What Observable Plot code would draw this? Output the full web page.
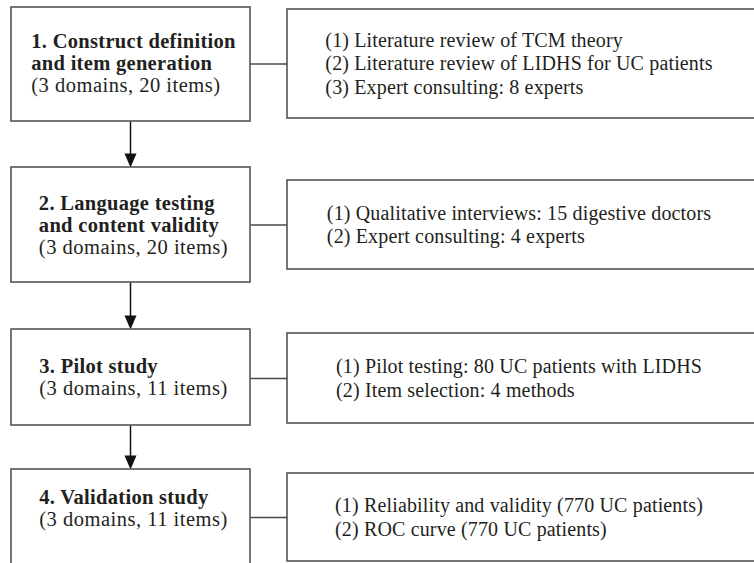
<!DOCTYPE html>
<html>
<head>
<meta charset="utf-8">
<script src="https://cdn.jsdelivr.net/npm/d3@7"></script>
<script src="https://cdn.jsdelivr.net/npm/@observablehq/plot@0.6"></script>
<style>
  html, body { margin: 0; padding: 0; background: #fff; }
  #chart { width: 754px; height: 563px; overflow: hidden; }
</style>
</head>
<body>
<div id="chart"></div>
<script>
// ---- content ----
const stepTitles = [
  ["1. Construct definition", "and item generation"],
  ["2. Language testing", "and content validity"],
  ["3. Pilot study"],
  ["4. Validation study"]
];
const stepCounts = [
  "(3 domains, 20 items)",
  "(3 domains, 20 items)",
  "(3 domains, 11 items)",
  "(3 domains, 11 items)"
];
const stepDetails = [
  ["(1) Literature review of TCM theory",
   "(2) Literature review of LIDHS for UC patients",
   "(3) Expert consulting: 8 experts"],
  ["(1) Qualitative interviews: 15 digestive doctors",
   "(2) Expert consulting: 4 experts"],
  ["(1) Pilot testing: 80 UC patients with LIDHS",
   "(2) Item selection: 4 methods"],
  ["(1) Reliability and validity (770 UC patients)",
   "(2) ROC curve (770 UC patients)"]
];

// ---- layout (pixel-space frame) ----
const W = 754, H = 563;
const leftX1 = 11, leftX2 = 250, rightX1 = 287, rightX2 = 780;
const leftTop = [7, 167, 329, 469];
const leftBottom = [121, 282, 425, 620];
const rightTop = [9, 180, 333, 473];
const rightBottom = [118, 269, 423, 561];
const leftTextMid = [63, 225, 377, 508];
const arrowX = 130;
const leftCenter = 133, rightCenter = 518.5;
const fontFamily = '"Liberation Serif", "Times New Roman", serif';
const fsBold = 20.5, fsLeft = 20.5, fsRight = 20;
const lsBold = 0.3, lsLeft = 0.5, lsRight = 0.15;
const lhLeft = 22, lhRight = 23.5;
const ink = "#231f20", boxStroke = "#4a4a4a";

const ctx = document.createElement("canvas").getContext("2d");
function measure(t, size, bold, ls) {
  ctx.font = `${bold ? "bold " : ""}${size}px ${fontFamily}`;
  return ctx.measureText(t).width + ls * t.length;
}

const boxes = [];
const leftLines = [];
const rightLines = [];
const links = [];
const shafts = [];
const heads = [];

stepTitles.forEach((titles, i) => {
  boxes.push({x1: leftX1, x2: leftX2, y1: leftTop[i], y2: leftBottom[i]});
  boxes.push({x1: rightX1, x2: rightX2, y1: rightTop[i], y2: rightBottom[i]});
  const lines = titles.map(t => ({text: t, bold: true})).concat([{text: stepCounts[i], bold: false}]);
  const wL = d3.max(lines, l => l.bold ? measure(l.text, fsBold, true, lsBold) : measure(l.text, fsLeft, false, lsLeft));
  const startL = leftCenter - wL / 2;
  lines.forEach((l, j) => leftLines.push({
    text: l.text, bold: l.bold, x: startL,
    y: leftTextMid[i] + (j - (lines.length - 1) / 2) * lhLeft
  }));
  const det = stepDetails[i];
  const wR = d3.max(det, t => measure(t, fsRight, false, lsRight));
  const startR = rightCenter - wR / 2;
  const midR = (rightTop[i] + rightBottom[i]) / 2;
  det.forEach((t, j) => rightLines.push({
    text: t, x: startR, y: midR + (j - (det.length - 1) / 2) * lhRight
  }));
  links.push({x1: leftX2, x2: rightX1, y: midR});
  if (i < stepTitles.length - 1) {
    const tip = leftTop[i + 1];
    shafts.push({x: arrowX, y1: leftBottom[i], y2: tip - 12});
    heads.push({id: i, x: arrowX - 6, y: tip - 14});
    heads.push({id: i, x: arrowX + 6, y: tip - 14});
    heads.push({id: i, x: arrowX, y: tip});
  }
});

const chart = Plot.plot({
  width: W,
  height: H,
  margin: 0,
  style: {background: "#fff"},
  x: {domain: [0, W], range: [0, W], axis: null},
  y: {domain: [0, H], range: [0, H], axis: null},
  marks: [
    Plot.link(shafts, {x1: "x", x2: "x", y1: "y1", y2: "y2", stroke: "#111", strokeWidth: 1.5}),
    Plot.line(heads, {x: "x", y: "y", z: "id", fill: "#111", stroke: "none", curve: "linear-closed"}),
    Plot.link(links, {x1: "x1", x2: "x2", y1: "y", y2: "y", stroke: boxStroke, strokeWidth: 1.4}),
    Plot.rect(boxes, {x1: "x1", x2: "x2", y1: "y1", y2: "y2", fill: "white", stroke: boxStroke, strokeWidth: 1.5, clip: true}),
    Plot.text(leftLines.filter(d => d.bold), {x: "x", y: "y", text: "text", textAnchor: "start", lineAnchor: "middle",
      fontSize: fsBold, fontWeight: "bold", fontFamily, fill: ink}),
    Plot.text(leftLines.filter(d => !d.bold), {x: "x", y: "y", text: "text", textAnchor: "start", lineAnchor: "middle",
      fontSize: fsLeft, fontFamily, fill: ink}),
    Plot.text(rightLines, {x: "x", y: "y", text: "text", textAnchor: "start", lineAnchor: "middle",
      fontSize: fsRight, fontFamily, fill: ink})
  ]
});
const textGroups = d3.select(chart).selectAll('g[aria-label="text"]').nodes();
[lsBold, lsLeft, lsRight].forEach((ls, k) => {
  if (textGroups[k]) textGroups[k].setAttribute("letter-spacing", ls);
});
document.getElementById("chart").appendChild(chart);
</script>
</body>
</html>
